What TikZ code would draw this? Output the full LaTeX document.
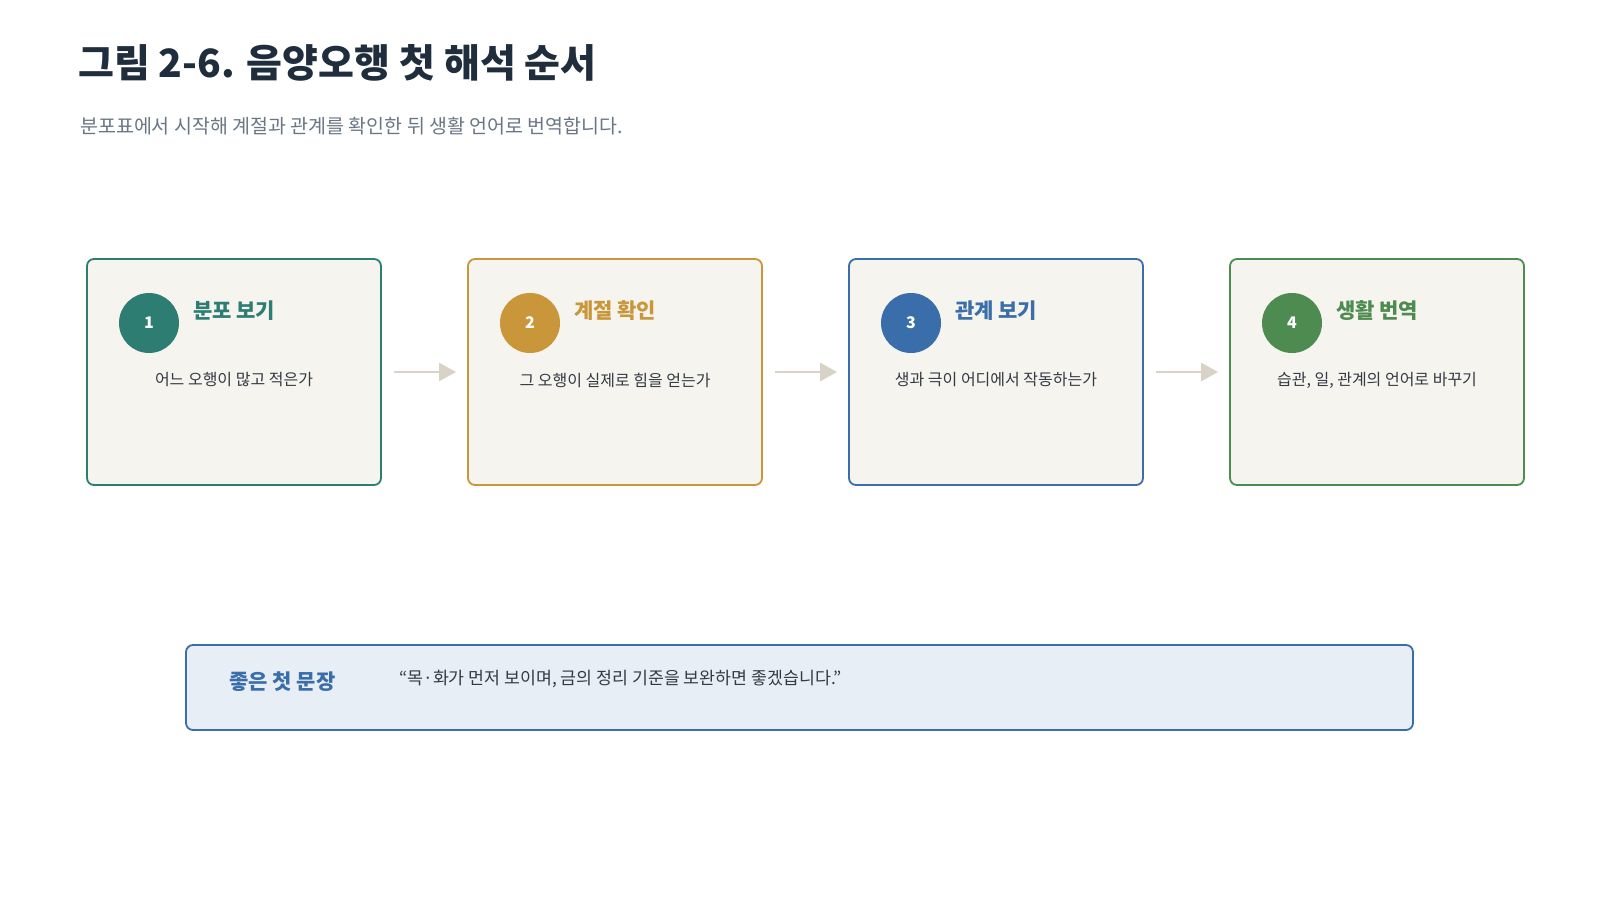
\documentclass[tikz,border=0pt]{standalone}
\usepackage{fontspec}
\setmainfont{Noto Sans CJK KR}
\usetikzlibrary{arrows.meta}
\definecolor{titlecol}{HTML}{1F2D3D}
\definecolor{subcol}{HTML}{6B7685}
\definecolor{desccol}{HTML}{333A42}
\definecolor{cteal}{HTML}{2E7D73}
\definecolor{cgold}{HTML}{C9963A}
\definecolor{cblue}{HTML}{3A6EAA}
\definecolor{cgreen}{HTML}{4E8B50}
\definecolor{boxfill}{HTML}{F6F4EF}
\definecolor{arrowcol}{HTML}{D9D3C7}
\definecolor{notefill}{HTML}{E8EEF6}
\tikzset{
  stepbox/.style={draw, line width=1.8pt, rounded corners=7pt, fill=boxfill, minimum width=294pt, minimum height=226pt, inner sep=0pt},
  numc/.style={circle, minimum size=60pt, inner sep=0pt, text=white, font=\fontsize{16}{18}\selectfont\bfseries},
  steptitle/.style={anchor=west, inner sep=0pt, font=\fontsize{21}{25}\selectfont\bfseries},
  stepdesc/.style={inner sep=0pt, text=desccol, font=\fontsize{16}{19}\selectfont},
  flowarrow/.style={draw=arrowcol, line width=2.6pt, shorten <=12pt, shorten >=11pt, -{Triangle[length=17pt,width=18pt]}},
  notebox/.style={draw=cblue, line width=1.8pt, rounded corners=7pt, fill=notefill, minimum width=1227pt, minimum height=85pt, inner sep=0pt}
}
\begin{document}
\begin{tikzpicture}[x=1pt,y=-1pt]
\useasboundingbox[fill=white] (0,0) rectangle (1600,900);
\node[anchor=west, inner sep=0pt, text=titlecol, font=\fontsize{39}{46}\selectfont\bfseries] (title) at (78,63) {그림 2-6. 음양오행 첫 해석 순서};
\node[anchor=west, inner sep=0pt, text=subcol, font=\fontsize{19.5}{23}\selectfont] (subtitle) at (80,126) {분포표에서 시작해 계절과 관계를 확인한 뒤 생활 언어로 번역합니다.};
\foreach \i/\x/\col/\ttl/\dsc in {1/87/cteal/{분포 보기}/{어느 오행이 많고 적은가}, 2/468/cgold/{계절 확인}/{그 오행이 실제로 힘을 얻는가}, 3/849/cblue/{관계 보기}/{생과 극이 어디에서 작동하는가}, 4/1230/cgreen/{생활 번역}/{습관, 일, 관계의 언어로 바꾸기}}{
  \node[stepbox, draw=\col] (box\i) at (\x+147,372) {};
  \node[numc, fill=\col] (c\i) at (\x+62,323) {\i};
  \node[steptitle, text=\col] (t\i) at (\x+106,311) {\ttl};
  \node[stepdesc] (d\i) at (\x+147,380) {\dsc};
}
\foreach \a/\b in {1/2,2/3,3/4}{
  \draw[flowarrow] (box\a.east) -- (box\b.west);
}
\node[notebox] (note) at (799.5,687.5) {};
\node[anchor=west, inner sep=0pt, text=cblue, font=\fontsize{21}{25}\selectfont\bfseries] (notelabel) at (229,682) {좋은 첫 문장};
\node[anchor=west, inner sep=0pt, text=desccol, font=\fontsize{17.3}{20}\selectfont] (quote) at (399,679) {“목·화가 먼저 보이며, 금의 정리 기준을 보완하면 좋겠습니다.”};
\end{tikzpicture}
\end{document}
